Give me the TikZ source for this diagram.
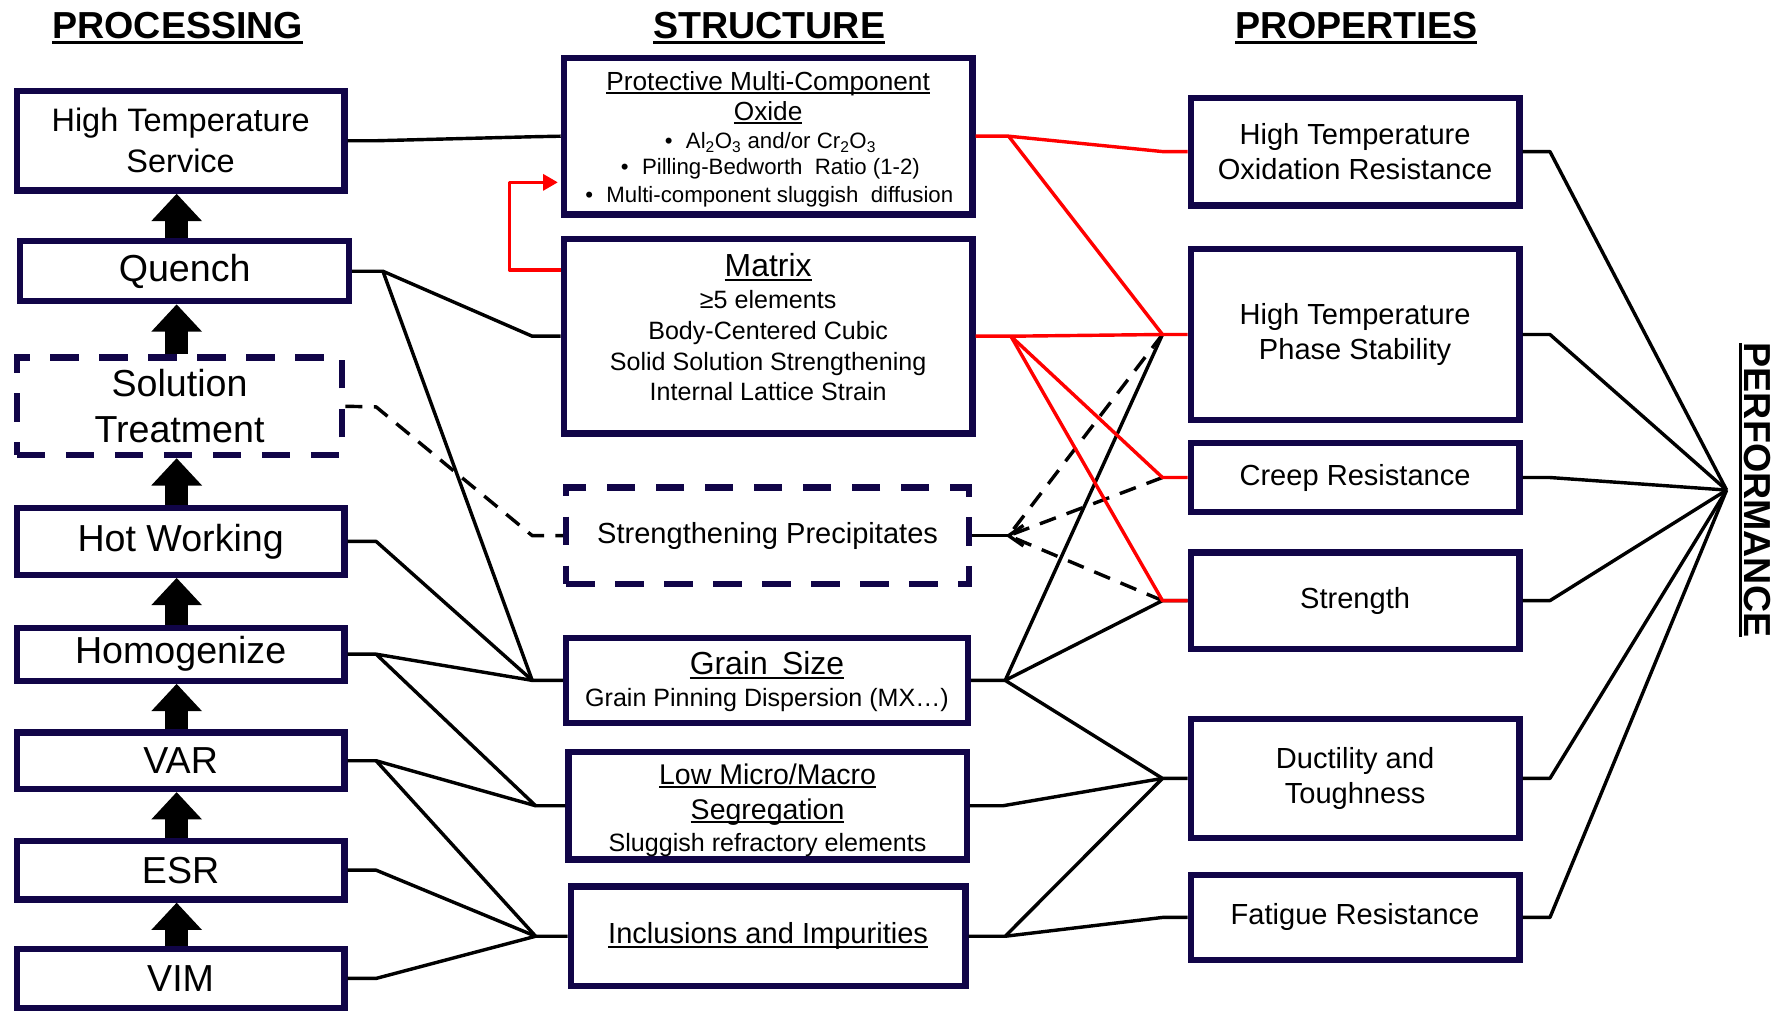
\documentclass[tikz,border=0pt]{standalone}
\usepackage{fontspec}
\setmainfont{Liberation Sans}
\usetikzlibrary{arrows.meta}
\definecolor{navy}{RGB}{17,5,72}
\newcommand{\ulx}[1]{\setbox0=\hbox{#1}\leavevmode\rlap{\rule[-0.14em]{\wd0}{0.07em}}\box0}
\newcommand{\fsz}[2]{\fontsize{#1}{#2}\selectfont}
\begin{document}
\begin{tikzpicture}[x=1pt,y=-1pt,
 pbox/.style={draw=navy, line width=5.5pt, fill=white, inner sep=0pt, align=center},
 dbox/.style={pbox, dash pattern=on 25pt off 18pt},
 conn/.style={line width=3pt, line join=round},
 rconn/.style={conn, draw=red},
 dconn/.style={conn, dash pattern=on 15pt off 10pt},
 ttl/.style={font=\bfseries\fsz{33}{40}, anchor=base, inner sep=0pt},
 lbl/.style={anchor=base, inner sep=0pt},
 upar/.style={line width=20pt, -{Triangle[length=24pt,width=43pt]}},
]
\useasboundingbox (0,0) rectangle (1568,889);

% titles
\node[ttl] (tproc) at (156,34) {\ulx{PROCESSING}};
\node[ttl] (tstruct) at (675,34) {\ulx{STRUCTURE}};
\node[ttl] (tprop) at (1190,34) {\ulx{PROPERTIES}};
\node[font=\bfseries\fsz{33}{40}, rotate=-90, inner sep=0pt] (perf) at (1540,430) {\ulx{PERFORMANCE}};

% processing
\node[pbox, minimum width=287.5pt, minimum height=87.5pt, font=\fsz{28.5}{36}] (hts) at (158.5,123.5) {High Temperature\\Service};
\node[pbox, minimum width=288.5pt, minimum height=52.5pt, font=\fsz{33}{40}] (quench) at (162,238) {Quench};
\node[dbox, minimum width=285.5pt, minimum height=85.5pt, font=\fsz{33}{40}] (sol) at (157.5,356.5) {Solution\\Treatment};
\node[pbox, minimum width=287.5pt, minimum height=58.5pt, font=\fsz{33}{40}] (hot) at (158.5,475) {Hot Working};
\node[pbox, minimum width=287.5pt, minimum height=46.5pt, font=\fsz{33}{40}] (homog) at (158.5,574) {Homogenize};
\node[pbox, minimum width=287.5pt, minimum height=49.5pt, font=\fsz{33}{40}] (var) at (158.5,667.5) {VAR};
\node[pbox, minimum width=287.5pt, minimum height=51.5pt, font=\fsz{33}{40}] (esr) at (158.5,763.5) {ESR};
\node[pbox, minimum width=287.5pt, minimum height=51.5pt, font=\fsz{33}{40}] (vim) at (158.5,858.5) {VIM};

\foreach \u/\l in {hts/quench, quench/sol, sol/hot, hot/homog, homog/var, var/esr, esr/vim}
  \draw[upar] (155,0 |- \l.north) -- (155,0 |- \u.south);

% structure
\node[pbox, minimum width=358.5pt, minimum height=137.5pt] (oxide) at (674,119.5) {};
\node[pbox, minimum width=358.5pt, minimum height=170.5pt] (matrix) at (674,295) {};
\node[dbox, minimum width=353.5pt, minimum height=84.5pt, font=\fsz{25.5}{30}] (prec) at (673.5,470) {Strengthening Precipitates};
\node[pbox, minimum width=352.5pt, minimum height=74.5pt] (grain) at (673,597) {};
\node[pbox, minimum width=349.5pt, minimum height=94.5pt] (seg) at (673.5,707) {};
\node[pbox, minimum width=346.5pt, minimum height=87.5pt, font=\fsz{25.5}{30}] (incl) at (674,821.5) {\ulx{Inclusions and Impurities}};

\node[lbl, font=\fsz{23}{28}] (ox1) at (674,79.5) {\ulx{Protective Multi-Component}};
\node[lbl, font=\fsz{23}{28}] (ox2) at (674,105.5) {\ulx{Oxide}};
\node[lbl, font=\fsz{19.5}{24}] (ox3) at (676,130.5) {•\hspace{0.6em}Al\textsubscript{2}O\textsubscript{3} and/or Cr\textsubscript{2}O\textsubscript{3}};
\node[lbl, font=\fsz{19.5}{24}] (ox4) at (676,153.5) {•\hspace{0.6em}Pilling-Bedworth\ \ Ratio (1-2)};
\node[lbl, font=\fsz{19.5}{24}] (ox5) at (675,177.5) {•\hspace{0.6em}Multi-component\ sluggish\ \ diffusion};

\node[lbl, font=\fsz{28}{32}] (mx1) at (674,243) {\ulx{Matrix}};
\node[lbl, font=\fsz{22}{27}] (mx2) at (674,270.8) {≥5 elements};
\node[lbl, font=\fsz{22}{27}] (mx3) at (674,297.8) {Body-Centered Cubic};
\node[lbl, font=\fsz{22}{27}] (mx4) at (674,324.8) {Solid Solution Strengthening};
\node[lbl, font=\fsz{22}{27}] (mx5) at (674,351.8) {Internal Lattice Strain};

\node[lbl, font=\fsz{28}{32}] (gs1) at (673,592) {\ulx{Grain\hspace{0.45em}Size}};
\node[lbl, font=\fsz{22}{27}] (gs2) at (673,619.7) {Grain Pinning Dispersion (MX…)};

\node[lbl, font=\fsz{25}{30}] (sg1) at (673.5,688) {\ulx{Low Micro/Macro}};
\node[lbl, font=\fsz{25}{30}] (sg2) at (673.5,719) {\ulx{Segregation}};
\node[lbl, font=\fsz{22}{27}] (sg3) at (673.5,746.7) {Sluggish refractory elements};

% properties
\node[pbox, minimum width=288.5pt, minimum height=94.5pt, font=\fsz{25.5}{31}] (hto) at (1189,133) {High Temperature\\Oxidation Resistance};
\node[pbox, minimum width=288.5pt, minimum height=149.5pt, font=\fsz{25.5}{31}] (hps) at (1189,293.5) {High Temperature\\Phase Stability};
\node[pbox, minimum width=288.5pt, minimum height=60.5pt, font=\fsz{25.5}{31}] (creep) at (1189,419) {Creep Resistance};
\node[pbox, minimum width=288.5pt, minimum height=84.5pt, font=\fsz{25.5}{31}] (str) at (1189,527) {Strength};
\node[pbox, minimum width=288.5pt, minimum height=104.5pt, font=\fsz{25.5}{31}] (duct) at (1189,683) {Ductility and\\Toughness};
\node[pbox, minimum width=288.5pt, minimum height=74.5pt, font=\fsz{25.5}{31}] (fat) at (1189,805) {Fatigue Resistance};

% junction points
\coordinate (htsj) at (330,123.5);
\coordinate (oxl) at (467,120);
\coordinate (qj) at (336,238);
\coordinate (mxl) at (467,295);
\coordinate (solj) at (330,357);
\coordinate (prl) at (467,470);
\coordinate (hotj) at (330,475);
\coordinate (gsl) at (467,597);
\coordinate (homj) at (330,574);
\coordinate (sgl) at (470,707);
\coordinate (varj) at (330,667.5);
\coordinate (inl) at (470,821.5);
\coordinate (esrj) at (330,763.5);
\coordinate (vimj) at (330,858.5);

\coordinate (oxr) at (885,119.5);
\coordinate (mxr) at (887,295);
\coordinate (prr) at (885,470);
\coordinate (gsr) at (882,597);
\coordinate (sgr) at (880,707);
\coordinate (inr) at (882,821.5);
\coordinate (htoj) at (1020,133);
\coordinate (hpsj) at (1020,293.5);
\coordinate (crj) at (1020,419);
\coordinate (stj) at (1020,527);
\coordinate (duj) at (1020,683);
\coordinate (faj) at (1020,805);

\coordinate (htoo) at (1360,133);
\coordinate (hpso) at (1360,293.5);
\coordinate (croo) at (1360,419);
\coordinate (stro) at (1360,527);
\coordinate (duco) at (1360,683);
\coordinate (fato) at (1360,805);
\coordinate (apex) at (1515,430);

% processing -> structure
\draw[conn] (hts.east) -- (htsj) -- (oxl) -- (oxide.west);
\draw[conn] (quench.east) -- (qj) -- (mxl) -- (matrix.west);
\draw[conn] (qj) -- (gsl);
\draw[conn] (hot.east) -- (hotj) -- (gsl) -- (grain.west);
\draw[conn] (homog.east) -- (homj) -- (gsl);
\draw[conn] (homj) -- (sgl) -- (seg.west);
\draw[conn] (var.east) -- (varj) -- (sgl);
\draw[conn] (varj) -- (inl) -- (incl.west);
\draw[conn] (esr.east) -- (esrj) -- (inl);
\draw[conn] (vim.east) -- (vimj) -- (inl);
\draw[dconn] (sol.east) -- (solj) -- (prl) -- (prec.west);

% structure -> properties (black)
\draw[conn] (prec.east) -- (prr);
\draw[conn] (prr) ++(13,-9) -- (prr) -- ++(13,9);
\draw[conn] (grain.east) -- (gsr) -- (hpsj);
\draw[conn] (gsr) -- (stj) -- (str.west);
\draw[conn] (gsr) -- (duj) -- (duct.west);
\draw[conn] (seg.east) -- (sgr) -- (duj);
\draw[conn] (incl.east) -- (inr) -- (duj);
\draw[conn] (inr) -- (faj) -- (fat.west);
\draw[dconn] (hpsj) -- (prr);
\draw[dconn] (crj) -- (prr);
\draw[dconn] (stj) -- (prr);

% red
\draw[rconn] (oxide.east) -- (oxr) -- (htoj) -- (hto.west);
\draw[rconn] (oxr) -- (hpsj);
\draw[rconn] (matrix.east) -- (mxr) -- (hpsj) -- (hps.west);
\draw[rconn] (mxr) -- (crj) -- (creep.west);
\draw[rconn] (mxr) -- (stj) -- (str.west);
\draw[rconn, -{Triangle[length=13pt,width=14pt]}, shorten >=2.5pt] (matrix.west |- 0,237) -- (447,237) -- (447,160) -- (oxide.west |- 0,160);

% properties -> performance
\foreach \n/\c in {hto/htoo, hps/hpso, creep/croo, str/stro, duct/duco, fat/fato}
  \draw[conn] (\n.east) -- (\c) -- (apex);
\end{tikzpicture}
\end{document}
